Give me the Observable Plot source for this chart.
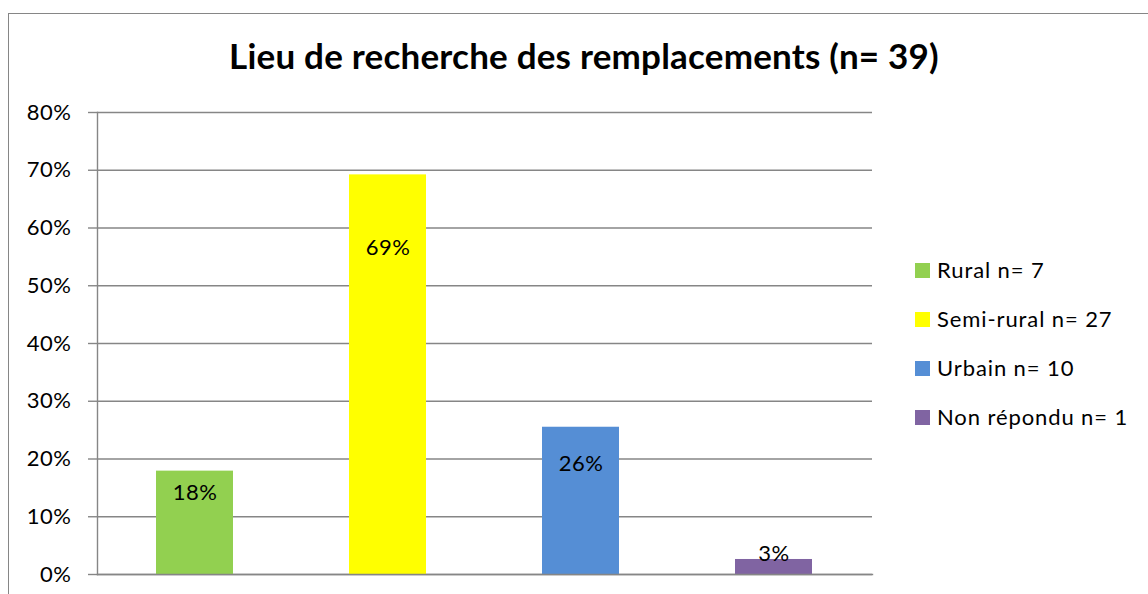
<!DOCTYPE html>
<html>
<head>
<meta charset="utf-8">
<script src="https://cdn.jsdelivr.net/npm/d3@7"></script>
<script src="https://cdn.jsdelivr.net/npm/@observablehq/plot@0.6"></script>
<style>
  html, body { margin: 0; padding: 0; background: #fff; }
  #wrap { position: relative; width: 1148px; height: 594px; overflow: hidden; font-family: Lato, "Open Sans", sans-serif; }
  #frame { position: absolute; left: 8px; top: 13px; width: 1300px; height: 800px; border: 1.5px solid #868686; box-sizing: border-box; }
  #title { position: absolute; left: 0; width: 1168px; top: 35px; text-align: center; font-weight: bold; font-size: 35px; line-height: 40px; color: #000; letter-spacing: 0.2px; }
  #chart { position: absolute; left: 0; top: 0; }
  #legend { position: absolute; left: 915px; top: 0; }
  .row { position: absolute; white-space: nowrap; font-size: 22px; line-height: 24px; color: #000; letter-spacing: 0.9px; }
  .sw { position: absolute; left: 0; top: 5px; width: 15px; height: 15px; }
  .lab { position: absolute; left: 22px; top: 0; }
</style>
</head>
<body>
<div id="wrap">
  <div id="frame"></div>
  <div id="chart"></div>
  <div id="title"></div>
  <div id="legend"></div>
</div>
<script>
const titleText = "Lieu de recherche des remplacements (n= 39)";
const categories = ["Rural n= 7", "Semi-rural n= 27", "Urbain n= 10", "Non répondu n= 1"];
const values = [0.179, 0.692, 0.255, 0.026];
const labels = ["18%", "69%", "26%", "3%"];
// vertical position of each data label, in value units (as placed in the original)
const labelY = [0.142, 0.566, 0.192, 0.036];
const colors = ["#92D050", "#FFFF00", "#558ED5", "#8064A2"];
const yTicks = [0, 0.1, 0.2, 0.3, 0.4, 0.5, 0.6, 0.7, 0.8];

const data = categories.map((c, i) => ({cat: c, value: values[i], label: labels[i], ly: labelY[i]}));

document.getElementById("title").textContent = titleText;

const grid = "#868686";
const chart = Plot.plot({
  width: 1148,
  height: 594,
  marginLeft: 97,
  marginRight: 276,
  marginTop: 112,
  marginBottom: 20,
  style: {fontFamily: "Lato, 'Open Sans', sans-serif", fontSize: "22px", color: "#000", background: "transparent", letterSpacing: "0.5px"},
  x: {domain: categories, paddingInner: 0.6, paddingOuter: 0.3, axis: null},
  y: {domain: [0, 0.8], ticks: yTicks, tickFormat: d3.format(".0%")},
  color: {domain: categories, range: colors},
  marks: [
    Plot.gridY(yTicks, {stroke: grid, strokeOpacity: 1, strokeWidth: 1.4}),
    Plot.barY(data, {x: "cat", y: "value", fill: "cat"}),
    Plot.axisY(yTicks, {tickSize: 9, tickPadding: 17, stroke: grid, strokeWidth: 1.4, fill: "#000", fontSize: 22, tickFormat: d3.format(".0%"), label: null}),
    Plot.frame({anchor: "left", stroke: grid, strokeWidth: 1.4}),
    Plot.frame({anchor: "bottom", stroke: grid, strokeWidth: 1.4}),
    Plot.text(data, {x: "cat", y: "ly", text: "label", fill: "#000", fontSize: 22})
  ]
});
document.getElementById("chart").appendChild(chart);

const legend = document.getElementById("legend");
categories.forEach((c, i) => {
  const row = document.createElement("div");
  row.className = "row";
  row.style.top = (258 + i * 49) + "px";
  const sw = document.createElement("div");
  sw.className = "sw";
  sw.style.background = colors[i];
  const lab = document.createElement("div");
  lab.className = "lab";
  lab.textContent = c;
  row.appendChild(sw);
  row.appendChild(lab);
  legend.appendChild(row);
});
</script>
</body>
</html>
